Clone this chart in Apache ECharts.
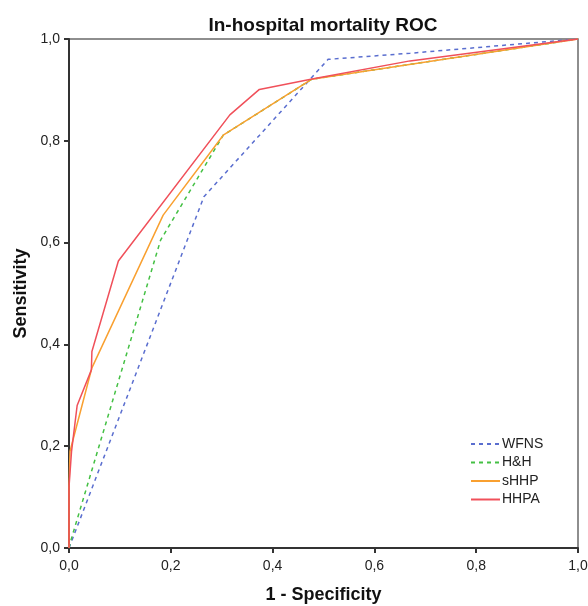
<!DOCTYPE html>
<html>
<head>
<meta charset="utf-8">
<script src="https://cdn.jsdelivr.net/npm/echarts@6/dist/echarts.min.js"></script>
<style>
html,body{margin:0;padding:0;background:#fff;}
#chart{width:588px;height:606px;}
</style>
</head>
<body>
<div id="chart"></div>
<script>
const seriesNames = ['WFNS', 'H&H', 'sHHP', 'HHPA'];
const tickLabels = ['0,0', '0,2', '0,4', '0,6', '0,8', '1,0'];

const wfnsX = [0, 0.265, 0.509, 0.67, 1];
const wfnsY = [0, 0.69, 0.96, 0.972, 1];

const hhX = [0, 0.004, 0.18, 0.303, 0.477, 1];
const hhY = [0, 0.016, 0.605, 0.811, 0.921, 1];

const shhpX = [0, 0, 0.002, 0.045, 0.185, 0.303, 0.477, 1];
const shhpY = [0, 0.12, 0.19, 0.354, 0.654, 0.811, 0.921, 1];

const hhpaX = [0, 0, 0.005, 0.016, 0.044, 0.045, 0.097, 0.316, 0.374, 0.48, 0.67, 1];
const hhpaY = [0, 0.12, 0.19, 0.28, 0.35, 0.386, 0.564, 0.851, 0.901, 0.922, 0.957, 1];

const colors = ['#5a6ecf', '#44c044', '#f9a030', '#f0505a'];
const dashed = [true, true, false, false];

function pairs(xs, ys) { return xs.map((x, i) => [x, ys[i]]); }
const dataSets = [pairs(wfnsX, wfnsY), pairs(hhX, hhY), pairs(shhpX, shhpY), pairs(hhpaX, hhpaY)];

const font = '"Liberation Sans", Arial, sans-serif';
const chart = echarts.init(document.getElementById('chart'), null, {renderer: 'canvas'});

function fmt(v) {
  const idx = Math.round(v / 0.2);
  return tickLabels[idx] !== undefined ? tickLabels[idx] : '';
}

chart.setOption({
  animation: false,
  backgroundColor: '#fff',
  title: {
    text: 'In-hospital mortality ROC',
    left: 318,
    top: 11,
    textAlign: 'center',
    textStyle: {fontFamily: font, fontSize: 19, fontWeight: 'bold', color: '#111'}
  },
  grid: {
    left: 69, right: 10, top: 39, bottom: 58,
    outerBoundsMode: 'none',
    containLabel: false,
    show: true, borderColor: '#6a6a6a', borderWidth: 1.5, backgroundColor: '#fff'
  },
  legend: {
    orient: 'vertical',
    left: 465,
    top: 432,
    itemWidth: 29,
    itemHeight: 12,
    itemGap: 4.5,
    itemStyle: {opacity: 0},
    textStyle: {fontFamily: font, fontSize: 14, color: '#222', padding: [0, 0, 0, -3]},
    data: seriesNames
  },
  xAxis: {
    type: 'value', min: 0, max: 1, interval: 0.2,
    name: '1 - Specificity', nameLocation: 'middle', nameGap: 38,
    nameTextStyle: {fontFamily: font, fontSize: 18, fontWeight: 'bold', color: '#111'},
    axisLine: {show: true, lineStyle: {color: '#333', width: 2}},
    axisTick: {show: true, length: 5, lineStyle: {color: '#333', width: 2}},
    axisLabel: {formatter: fmt, fontFamily: font, fontSize: 14, color: '#222', margin: 11},
    splitLine: {show: false}
  },
  yAxis: {
    type: 'value', min: 0, max: 1, interval: 0.2,
    name: 'Sensitivity', nameLocation: 'middle', nameGap: 37,
    nameTextStyle: {fontFamily: font, fontSize: 18, fontWeight: 'bold', color: '#111'},
    axisLine: {show: true, lineStyle: {color: '#333', width: 2}},
    axisTick: {show: true, length: 5, lineStyle: {color: '#333', width: 2}},
    axisLabel: {formatter: fmt, fontFamily: font, fontSize: 14, color: '#222', margin: 9},
    splitLine: {show: false}
  },
  series: seriesNames.map((n, i) => ({
    name: n,
    type: 'line',
    data: dataSets[i],
    symbol: 'none',
    color: colors[i],
    lineStyle: {color: colors[i], width: 1.5, type: dashed[i] ? [4, 4] : 'solid'},
    z: 2 + i
  }))
});
</script>
</body>
</html>
